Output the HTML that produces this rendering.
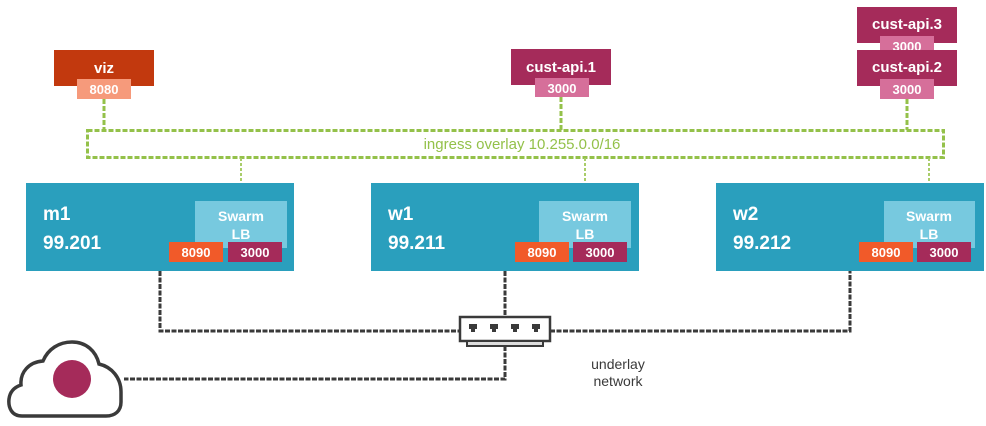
<!DOCTYPE html>
<html><head><meta charset="utf-8"><style>
html,body{margin:0;padding:0;background:#fff;}
svg{display:block;}
text{font-family:"Liberation Sans",sans-serif;}
</style></head><body>
<svg width="986" height="426" viewBox="0 0 986 426" xmlns="http://www.w3.org/2000/svg">
<g fill="none" stroke="#94c14a" stroke-width="3" stroke-dasharray="5,2">
<rect x="87.5" y="130.5" width="856" height="27"/>
<line x1="104" y1="99" x2="104" y2="130"/>
<line x1="561" y1="97" x2="561" y2="130"/>
<line x1="907" y1="99" x2="907" y2="130"/>
</g>
<g fill="none" stroke="#a9cd6a" stroke-width="2" stroke-dasharray="3,2">
<line x1="241" y1="158" x2="241" y2="201"/>
<line x1="585" y1="158" x2="585" y2="201"/>
<line x1="929" y1="158" x2="929" y2="201"/>
</g>
<text x="522" y="149" font-size="15" fill="#94c14a" text-anchor="middle">ingress overlay 10.255.0.0/16</text>
<rect x="54" y="50" width="100" height="36" fill="#c2390e"/>
<text x="104" y="73" font-size="15" font-weight="bold" fill="#fff" text-anchor="middle">viz</text>
<rect x="77" y="79" width="54" height="20" fill="#f69a7b"/>
<text x="104" y="94" font-size="13" font-weight="bold" fill="#fff" text-anchor="middle">8080</text>
<rect x="511" y="49" width="100" height="36" fill="#a52b5a"/>
<text x="561" y="72" font-size="15" font-weight="bold" fill="#fff" text-anchor="middle">cust-api.1</text>
<rect x="535" y="78" width="54" height="19" fill="#d66f9a"/>
<text x="562" y="93" font-size="13" font-weight="bold" fill="#fff" text-anchor="middle">3000</text>
<rect x="857" y="7" width="100" height="36" fill="#a52b5a"/>
<text x="907" y="29" font-size="15" font-weight="bold" fill="#fff" text-anchor="middle">cust-api.3</text>
<rect x="880" y="36" width="54" height="20" fill="#d66f9a"/>
<text x="907" y="51" font-size="13" font-weight="bold" fill="#fff" text-anchor="middle">3000</text>
<rect x="857" y="50" width="100" height="36" fill="#a52b5a"/>
<text x="907" y="72" font-size="15" font-weight="bold" fill="#fff" text-anchor="middle">cust-api.2</text>
<rect x="880" y="79" width="54" height="20" fill="#d66f9a"/>
<text x="907" y="94" font-size="13" font-weight="bold" fill="#fff" text-anchor="middle">3000</text>
<g font-weight="bold">
<rect x="26" y="183" width="268" height="88" fill="#2a9fbd"/>
<text x="43" y="220" font-size="19" fill="#fff">m1</text>
<text x="43" y="249" font-size="19" fill="#fff">99.201</text>
<rect x="195" y="201" width="92" height="47" fill="#77c9df"/>
<text x="241" y="221" font-size="14" fill="#fff" text-anchor="middle">Swarm</text>
<text x="241" y="239" font-size="14" fill="#fff" text-anchor="middle">LB</text>
<rect x="169" y="242" width="54" height="20" fill="#f15a29"/>
<text x="196" y="257" font-size="13" fill="#fff" text-anchor="middle">8090</text>
<rect x="228" y="242" width="54" height="20" fill="#a52b5a"/>
<text x="255" y="257" font-size="13" fill="#fff" text-anchor="middle">3000</text>

<rect x="371" y="183" width="268" height="88" fill="#2a9fbd"/>
<text x="388" y="220" font-size="19" fill="#fff">w1</text>
<text x="388" y="249" font-size="19" fill="#fff">99.211</text>
<rect x="539" y="201" width="92" height="47" fill="#77c9df"/>
<text x="585" y="221" font-size="14" fill="#fff" text-anchor="middle">Swarm</text>
<text x="585" y="239" font-size="14" fill="#fff" text-anchor="middle">LB</text>
<rect x="515" y="242" width="54" height="20" fill="#f15a29"/>
<text x="542" y="257" font-size="13" fill="#fff" text-anchor="middle">8090</text>
<rect x="573" y="242" width="54" height="20" fill="#a52b5a"/>
<text x="600" y="257" font-size="13" fill="#fff" text-anchor="middle">3000</text>

<rect x="716" y="183" width="268" height="88" fill="#2a9fbd"/>
<text x="733" y="220" font-size="19" fill="#fff">w2</text>
<text x="733" y="249" font-size="19" fill="#fff">99.212</text>
<rect x="884" y="201" width="91" height="47" fill="#77c9df"/>
<text x="929" y="221" font-size="14" fill="#fff" text-anchor="middle">Swarm</text>
<text x="929" y="239" font-size="14" fill="#fff" text-anchor="middle">LB</text>
<rect x="859" y="242" width="54" height="20" fill="#f15a29"/>
<text x="886" y="257" font-size="13" fill="#fff" text-anchor="middle">8090</text>
<rect x="917" y="242" width="54" height="20" fill="#a52b5a"/>
<text x="944" y="257" font-size="13" fill="#fff" text-anchor="middle">3000</text>
</g>
<g fill="none" stroke="#3a3a3a" stroke-width="3" stroke-dasharray="5,1.5">
<polyline points="160,271 160,331 459,331"/>
<polyline points="550,331 850,331 850,271"/>
<line x1="505" y1="271" x2="505" y2="316"/>
<polyline points="505,346 505,379 124,379"/>
</g>
<rect x="460" y="317" width="90" height="24" fill="#fff" stroke="#3a3a3a" stroke-width="2.5"/>
<rect x="467" y="341" width="76" height="5" fill="#ddd" stroke="#3a3a3a" stroke-width="2"/>
<g fill="#3a3a3a">
<rect x="469" y="324" width="8" height="5"/><rect x="471" y="329" width="4" height="3"/>
<rect x="490" y="324" width="8" height="5"/><rect x="492" y="329" width="4" height="3"/>
<rect x="511" y="324" width="8" height="5"/><rect x="513" y="329" width="4" height="3"/>
<rect x="532" y="324" width="8" height="5"/><rect x="534" y="329" width="4" height="3"/>
</g>
<path d="M22,416 C12,416 8,408 9,399 C10,391 15,387 21,385 C20,372 29,362 43,361 C48,349 59,342 72,342 C86,342 96,351 99,364 C112,367 121,378 121,392 L121,402 C121,411 115,416 106,416 Z" fill="#fff" stroke="#3a3a3a" stroke-width="3.5"/>
<circle cx="72" cy="379" r="19" fill="#a52b5a"/>
<text x="618" y="369" font-size="14" fill="#3a3a3a" text-anchor="middle">underlay</text>
<text x="618" y="386" font-size="14" fill="#3a3a3a" text-anchor="middle">network</text>
</svg>
</body></html>
